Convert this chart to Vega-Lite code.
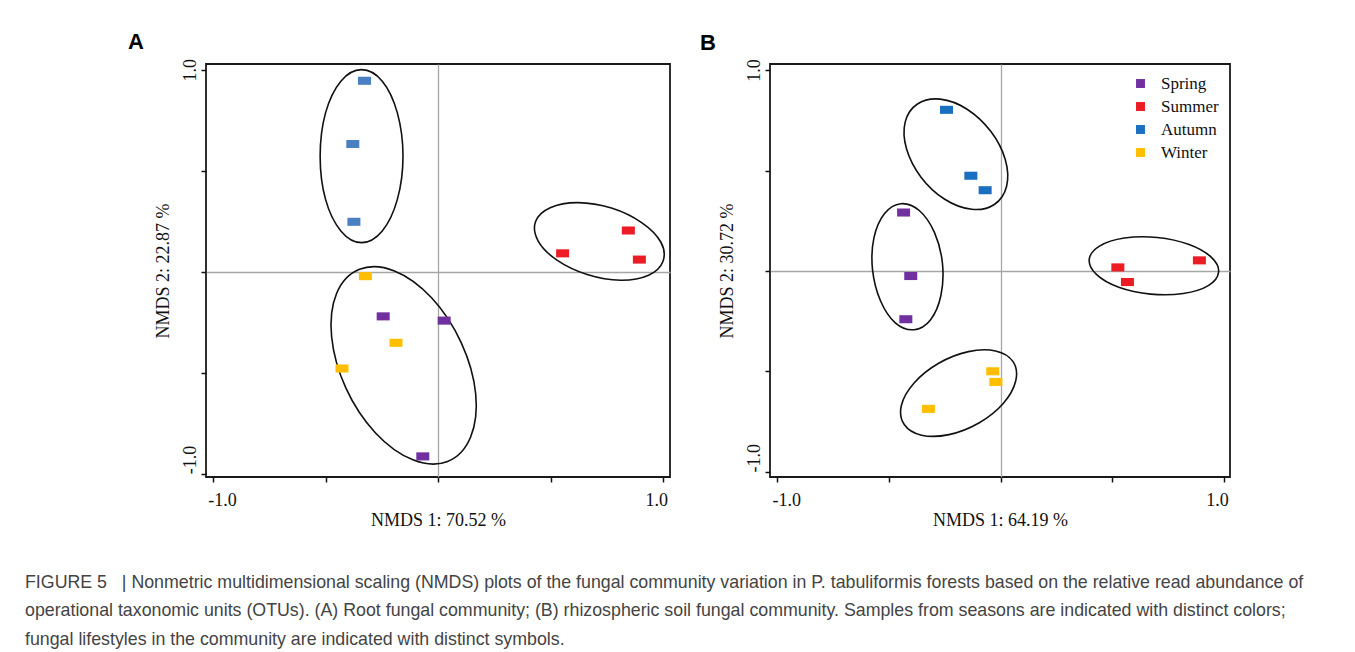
{
  "$schema": "https://vega.github.io/schema/vega-lite/v6.json",
  "background": "white",
  "padding": {"left": 25, "top": 30, "right": 0, "bottom": 0},
  "bounds": "flush",
  "spacing": 100,
  "title": {
    "text": [
      "FIGURE 5\u00a0\u00a0\u00a0| Nonmetric multidimensional scaling (NMDS) plots of the fungal community variation in P. tabuliformis forests based on the relative read abundance of",
      "operational taxonomic units (OTUs). (A) Root fungal community; (B) rhizospheric soil fungal community. Samples from seasons are indicated with distinct colors;",
      "fungal lifestyles in the community are indicated with distinct symbols."
    ],
    "orient": "bottom",
    "anchor": "start",
    "frame": "group",
    "dx": -181,
    "offset": 44,
    "baseline": "top",
    "font": "Liberation Sans",
    "fontSize": 17.8,
    "fontWeight": "normal",
    "color": "#444444",
    "lineHeight": 28.5
  },
  "datasets": {
    "points": [
      {"panel": "A", "season": "Autumn", "x": -0.327, "y": 0.945},
      {"panel": "A", "season": "Autumn", "x": -0.379, "y": 0.632},
      {"panel": "A", "season": "Autumn", "x": -0.374, "y": 0.247},
      {"panel": "A", "season": "Summer", "x": 0.553, "y": 0.091},
      {"panel": "A", "season": "Summer", "x": 0.845, "y": 0.204},
      {"panel": "A", "season": "Summer", "x": 0.894, "y": 0.060},
      {"panel": "A", "season": "Winter", "x": -0.323, "y": -0.022},
      {"panel": "A", "season": "Winter", "x": -0.187, "y": -0.352},
      {"panel": "A", "season": "Winter", "x": -0.427, "y": -0.479},
      {"panel": "A", "season": "Spring", "x": -0.244, "y": -0.221},
      {"panel": "A", "season": "Spring", "x": 0.027, "y": -0.242},
      {"panel": "A", "season": "Spring", "x": -0.068, "y": -0.914},
      {"panel": "B", "season": "Spring", "x": -0.434, "y": 0.291},
      {"panel": "B", "season": "Spring", "x": -0.402, "y": -0.025},
      {"panel": "B", "season": "Spring", "x": -0.424, "y": -0.240},
      {"panel": "B", "season": "Summer", "x": 0.525, "y": 0.018},
      {"panel": "B", "season": "Summer", "x": 0.568, "y": -0.055},
      {"panel": "B", "season": "Summer", "x": 0.890, "y": 0.053},
      {"panel": "B", "season": "Autumn", "x": -0.242, "y": 0.802},
      {"panel": "B", "season": "Autumn", "x": -0.133, "y": 0.474},
      {"panel": "B", "season": "Autumn", "x": -0.069, "y": 0.402},
      {"panel": "B", "season": "Winter", "x": -0.035, "y": -0.499},
      {"panel": "B", "season": "Winter", "x": -0.021, "y": -0.552},
      {"panel": "B", "season": "Winter", "x": -0.323, "y": -0.686}
    ],
    "ellipses": [
      {"panel": "A", "g": "A1", "i": 0, "x": -0.156, "y": 0.572},
      {"panel": "A", "g": "A1", "i": 1, "x": -0.181, "y": 0.786},
      {"panel": "A", "g": "A1", "i": 2, "x": -0.248, "y": 0.943},
      {"panel": "A", "g": "A1", "i": 3, "x": -0.340, "y": 1.000},
      {"panel": "A", "g": "A1", "i": 4, "x": -0.432, "y": 0.943},
      {"panel": "A", "g": "A1", "i": 5, "x": -0.500, "y": 0.786},
      {"panel": "A", "g": "A1", "i": 6, "x": -0.524, "y": 0.572},
      {"panel": "A", "g": "A1", "i": 7, "x": -0.500, "y": 0.358},
      {"panel": "A", "g": "A1", "i": 8, "x": -0.432, "y": 0.202},
      {"panel": "A", "g": "A1", "i": 9, "x": -0.340, "y": 0.144},
      {"panel": "A", "g": "A1", "i": 10, "x": -0.248, "y": 0.202},
      {"panel": "A", "g": "A1", "i": 11, "x": -0.181, "y": 0.358},
      {"panel": "A", "g": "A2", "i": 0, "x": 0.999, "y": 0.052},
      {"panel": "A", "g": "A2", "i": 1, "x": 0.935, "y": -0.017},
      {"panel": "A", "g": "A2", "i": 2, "x": 0.811, "y": -0.042},
      {"panel": "A", "g": "A2", "i": 3, "x": 0.662, "y": -0.014},
      {"panel": "A", "g": "A2", "i": 4, "x": 0.528, "y": 0.057},
      {"panel": "A", "g": "A2", "i": 5, "x": 0.444, "y": 0.153},
      {"panel": "A", "g": "A2", "i": 6, "x": 0.433, "y": 0.249},
      {"panel": "A", "g": "A2", "i": 7, "x": 0.498, "y": 0.317},
      {"panel": "A", "g": "A2", "i": 8, "x": 0.621, "y": 0.342},
      {"panel": "A", "g": "A2", "i": 9, "x": 0.770, "y": 0.315},
      {"panel": "A", "g": "A2", "i": 10, "x": 0.904, "y": 0.243},
      {"panel": "A", "g": "A2", "i": 11, "x": 0.989, "y": 0.147},
      {"panel": "A", "g": "A3", "i": 0, "x": 0.042, "y": -0.939},
      {"panel": "A", "g": "A3", "i": 1, "x": -0.112, "y": -0.931},
      {"panel": "A", "g": "A3", "i": 2, "x": -0.278, "y": -0.798},
      {"panel": "A", "g": "A3", "i": 3, "x": -0.410, "y": -0.575},
      {"panel": "A", "g": "A3", "i": 4, "x": -0.473, "y": -0.322},
      {"panel": "A", "g": "A3", "i": 5, "x": -0.451, "y": -0.108},
      {"panel": "A", "g": "A3", "i": 6, "x": -0.349, "y": 0.012},
      {"panel": "A", "g": "A3", "i": 7, "x": -0.194, "y": 0.004},
      {"panel": "A", "g": "A3", "i": 8, "x": -0.029, "y": -0.129},
      {"panel": "A", "g": "A3", "i": 9, "x": 0.103, "y": -0.352},
      {"panel": "A", "g": "A3", "i": 10, "x": 0.167, "y": -0.605},
      {"panel": "A", "g": "A3", "i": 11, "x": 0.144, "y": -0.819},
      {"panel": "B", "g": "B1", "i": 0, "x": -0.028, "y": 0.331},
      {"panel": "B", "g": "B1", "i": 1, "x": -0.129, "y": 0.307},
      {"panel": "B", "g": "B1", "i": 2, "x": -0.250, "y": 0.357},
      {"panel": "B", "g": "B1", "i": 3, "x": -0.356, "y": 0.467},
      {"panel": "B", "g": "B1", "i": 4, "x": -0.421, "y": 0.608},
      {"panel": "B", "g": "B1", "i": 5, "x": -0.427, "y": 0.741},
      {"panel": "B", "g": "B1", "i": 6, "x": -0.372, "y": 0.831},
      {"panel": "B", "g": "B1", "i": 7, "x": -0.270, "y": 0.855},
      {"panel": "B", "g": "B1", "i": 8, "x": -0.150, "y": 0.805},
      {"panel": "B", "g": "B1", "i": 9, "x": -0.044, "y": 0.695},
      {"panel": "B", "g": "B1", "i": 10, "x": 0.021, "y": 0.555},
      {"panel": "B", "g": "B1", "i": 11, "x": 0.027, "y": 0.422},
      {"panel": "B", "g": "B2", "i": 0, "x": -0.387, "y": -0.292},
      {"panel": "B", "g": "B2", "i": 1, "x": -0.470, "y": -0.259},
      {"panel": "B", "g": "B2", "i": 2, "x": -0.537, "y": -0.149},
      {"panel": "B", "g": "B2", "i": 3, "x": -0.573, "y": 0.006},
      {"panel": "B", "g": "B2", "i": 4, "x": -0.567, "y": 0.164},
      {"panel": "B", "g": "B2", "i": 5, "x": -0.520, "y": 0.285},
      {"panel": "B", "g": "B2", "i": 6, "x": -0.446, "y": 0.335},
      {"panel": "B", "g": "B2", "i": 7, "x": -0.364, "y": 0.301},
      {"panel": "B", "g": "B2", "i": 8, "x": -0.296, "y": 0.192},
      {"panel": "B", "g": "B2", "i": 9, "x": -0.260, "y": 0.037},
      {"panel": "B", "g": "B2", "i": 10, "x": -0.267, "y": -0.122},
      {"panel": "B", "g": "B2", "i": 11, "x": -0.313, "y": -0.242},
      {"panel": "B", "g": "B3", "i": 0, "x": 0.976, "y": -0.006},
      {"panel": "B", "g": "B3", "i": 1, "x": 0.930, "y": -0.073},
      {"panel": "B", "g": "B3", "i": 2, "x": 0.818, "y": -0.112},
      {"panel": "B", "g": "B3", "i": 3, "x": 0.672, "y": -0.115},
      {"panel": "B", "g": "B3", "i": 4, "x": 0.529, "y": -0.081},
      {"panel": "B", "g": "B3", "i": 5, "x": 0.429, "y": -0.017},
      {"panel": "B", "g": "B3", "i": 6, "x": 0.397, "y": 0.058},
      {"panel": "B", "g": "B3", "i": 7, "x": 0.443, "y": 0.124},
      {"panel": "B", "g": "B3", "i": 8, "x": 0.554, "y": 0.164},
      {"panel": "B", "g": "B3", "i": 9, "x": 0.701, "y": 0.167},
      {"panel": "B", "g": "B3", "i": 10, "x": 0.844, "y": 0.132},
      {"panel": "B", "g": "B3", "i": 11, "x": 0.944, "y": 0.068},
      {"panel": "B", "g": "B4", "i": 0, "x": 0.056, "y": -0.451},
      {"panel": "B", "g": "B4", "i": 1, "x": 0.068, "y": -0.546},
      {"panel": "B", "g": "B4", "i": 2, "x": 0.012, "y": -0.659},
      {"panel": "B", "g": "B4", "i": 3, "x": -0.097, "y": -0.756},
      {"panel": "B", "g": "B4", "i": 4, "x": -0.231, "y": -0.814},
      {"panel": "B", "g": "B4", "i": 5, "x": -0.354, "y": -0.817},
      {"panel": "B", "g": "B4", "i": 6, "x": -0.431, "y": -0.764},
      {"panel": "B", "g": "B4", "i": 7, "x": -0.444, "y": -0.669},
      {"panel": "B", "g": "B4", "i": 8, "x": -0.387, "y": -0.557},
      {"panel": "B", "g": "B4", "i": 9, "x": -0.277, "y": -0.459},
      {"panel": "B", "g": "B4", "i": 10, "x": -0.144, "y": -0.401},
      {"panel": "B", "g": "B4", "i": 11, "x": -0.022, "y": -0.398}
    ]
  },
  "hconcat": [
    {
      "width": 464,
      "height": 413,
      "title": {"text": "A", "anchor": "start", "frame": "group", "dx": -78, "offset": 4, "font": "Liberation Sans", "fontSize": 22, "fontWeight": "bold", "color": "#000000"},
      "encoding": {
        "x": {"field": "x", "type": "quantitative", "title": "NMDS 1: 70.52 %", "axis": {"values": [-1, -0.5, 0, 0.5, 1]}, "scale": {"domain": [-1.031, 1.03], "nice": false, "zero": false}},
        "y": {"field": "y", "type": "quantitative", "title": "NMDS 2: 22.87 %", "axis": {"values": [-1, -0.5, 0, 0.5, 1]}, "scale": {"domain": [-1.016, 1.028], "nice": false, "zero": false}}
      },
      "layer": [
        {
          "data": {"name": "ellipses"},
          "transform": [{"filter": "datum.panel === 'A'"}],
          "mark": {"type": "line", "interpolate": "cardinal-closed", "color": "#111111", "strokeWidth": 1.6},
          "encoding": {"detail": {"field": "g"}, "order": {"field": "i", "type": "quantitative"}}
        },
        {
          "data": {"name": "points"},
          "transform": [{"filter": "datum.panel === 'A'"}],
          "mark": {"type": "point", "filled": true, "opacity": 1, "shape": "M-1,-0.62H1V0.62H-1Z", "size": 169},
          "encoding": {
            "color": {"field": "season", "type": "nominal", "legend": null,
              "scale": {"domain": ["Spring", "Summer", "Autumn", "Winter"], "range": ["#7030a0", "#ed1c24", "#4a7fc1", "#ffbf00"]}}
          }
        }
      ]
    },
    {
      "width": 460,
      "height": 413,
      "title": {"text": "B", "anchor": "start", "frame": "group", "dx": -70, "offset": 4, "font": "Liberation Sans", "fontSize": 22, "fontWeight": "bold", "color": "#000000"},
      "encoding": {
        "x": {"field": "x", "type": "quantitative", "title": "NMDS 1: 64.19 %", "axis": {"values": [-1, -0.5, 0, 0.5, 1]}, "scale": {"domain": [-1.032, 1.027], "nice": false, "zero": false}},
        "y": {"field": "y", "type": "quantitative", "title": "NMDS 2: 30.72 %", "axis": {"values": [-1, -0.5, 0, 0.5, 1]}, "scale": {"domain": [-1.025, 1.03], "nice": false, "zero": false}}
      },
      "layer": [
        {
          "data": {"name": "ellipses"},
          "transform": [{"filter": "datum.panel === 'B'"}],
          "mark": {"type": "line", "interpolate": "cardinal-closed", "color": "#111111", "strokeWidth": 1.6},
          "encoding": {"detail": {"field": "g"}, "order": {"field": "i", "type": "quantitative"}}
        },
        {
          "data": {"name": "points"},
          "transform": [{"filter": "datum.panel === 'B'"}],
          "mark": {"type": "point", "filled": true, "opacity": 1, "shape": "M-1,-0.62H1V0.62H-1Z", "size": 169},
          "encoding": {
            "color": {"field": "season", "type": "nominal",
              "scale": {"domain": ["Spring", "Summer", "Autumn", "Winter"], "range": ["#7030a0", "#ed1c24", "#1a6fc0", "#ffbf00"]},
              "legend": {"orient": "top-right", "offset": 11, "title": null, "padding": 0, "symbolType": "square", "symbolSize": 80, "symbolStrokeWidth": 0, "symbolOpacity": 1, "labelFont": "Liberation Serif", "labelFontSize": 17, "labelColor": "#111111", "labelOffset": 12, "rowPadding": 5}}
          }
        }
      ]
    }
  ],
  "resolve": {"scale": {"color": "independent"}},
  "config": {
    "view": {"stroke": "#1a1a1a", "strokeWidth": 1.8},
    "axis": {
      "domain": false,
      "labelExpr": "datum.value == 1 ? '1.0' : datum.value == -1 ? '-1.0' : ''",
      "tickColor": "#111111",
      "tickSize": 5,
      "tickWidth": 1.5,
      "grid": true,
      "gridColor": "#a6a6a6",
      "gridWidth": 1.3,
      "gridOpacity": {"condition": {"test": "datum.value === 0", "value": 1}, "value": 0},
      "labelFont": "Liberation Serif",
      "labelFontSize": 18,
      "labelColor": "#111111",
      "labelFlush": false,
      "labelOverlap": false,
      "labelBound": false,
      "titleFont": "Liberation Serif",
      "titleFontSize": 18,
      "titleFontWeight": "normal",
      "titleColor": "#111111"
    },
    "axisX": {
      "labelPadding": 9,
      "titlePadding": 2,
      "labelOffset": {"condition": {"test": "datum.value < 0", "value": 9}, "value": -7}
    },
    "axisY": {
      "labelAngle": 270,
      "labelBaseline": "alphabetic",
      "labelAlign": {"condition": {"test": "datum.value < 0", "value": "left"}, "value": "center"},
      "labelPadding": 6,
      "titlePadding": 9
    }
  }
}
